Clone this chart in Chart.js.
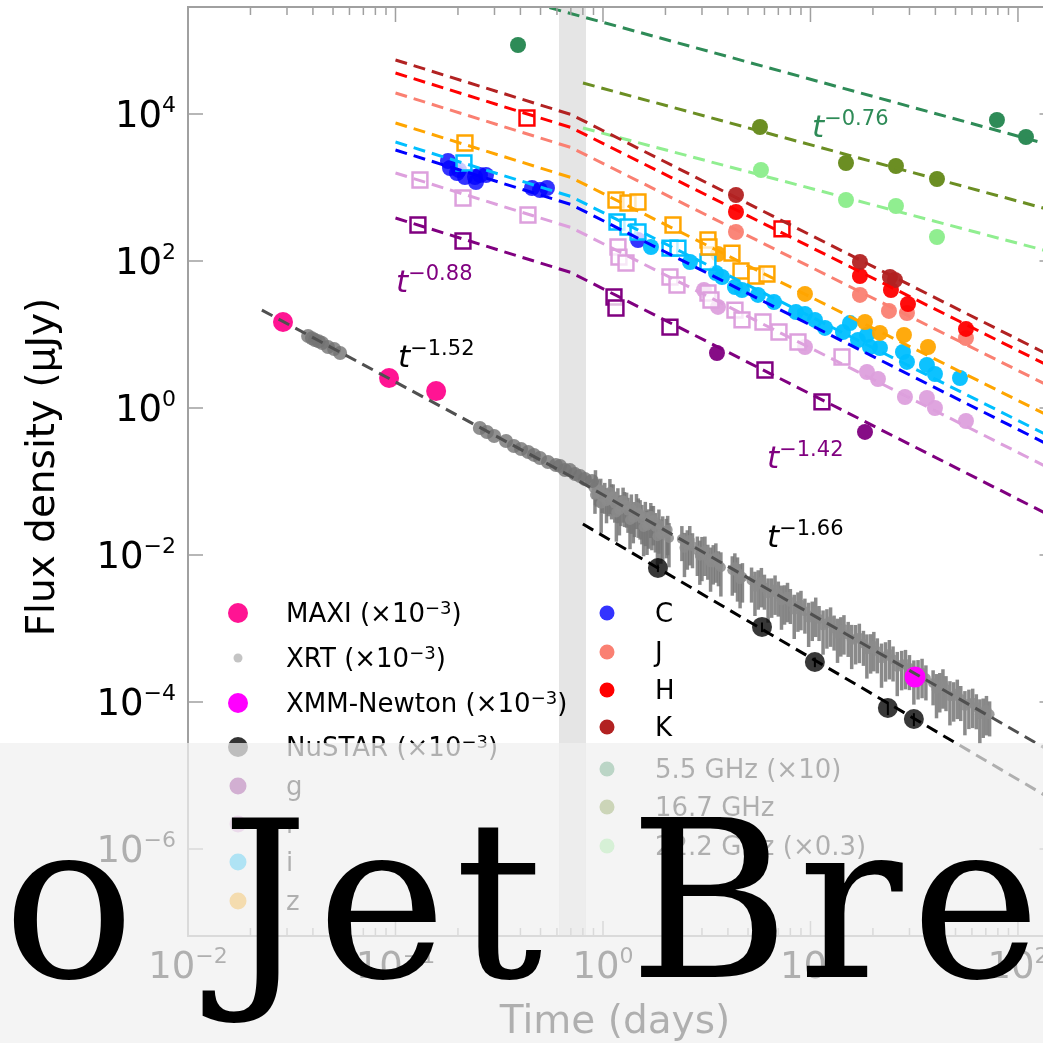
<!DOCTYPE html>
<html><head><meta charset="utf-8">
<script src="https://cdn.jsdelivr.net/npm/chart.js@4.4.0/dist/chart.umd.min.js"></script>
<style>
html,body{margin:0;padding:0;background:#fff;overflow:hidden;width:1043px;height:1043px;}
#wrap{position:absolute;left:0;top:0;width:1060px;height:1043px;}
</style></head>
<body>
<div id="wrap"><canvas id="c" width="1060" height="1043"></canvas></div>
<script>
// ---------------- data (time in days, flux density in µJy as plotted) ----------------
const bandT = [0.614, 0.828];

const xTickExp = [-2, -1, 0, 1, 2];
const yTickExp = [4, 2, 0, -2, -4, -6];

// fitted power laws (start, break, end)
const xrtLineT = [0.0227, 0.709, 150];
const xrtLineF = [21.5, 0.115, 1.99e-5];
const nustarLineT = [0.80, 150];
const nustarLineF = [0.0264, 4.50e-6];
const optLineT = [0.1, 0.701, 150];
const lineK = [54300, 9845, 4.82];
const lineH = [36120, 6551, 3.42];
const lineJ = [19310, 3501, 1.83];
const lineZ = [7545, 1368, 0.715];
const lineI = [4159, 754.5, 0.381];
const lineC = [3237, 587, 0.2874];
const lineR = [1575, 285.6, 0.1398];
const lineG = [384.6, 69.7, 0.0321];
const line55T = [0.3, 150];
const line55F = [448700, 3647];
const radioLineT = [0.801, 150];
const line167F = [26410, 477.4];
const line222F = [6449, 128.5];

// X-ray
const maxiT = [0.0287, 0.0931, 0.157];
const maxiF = [14.8, 2.56, 1.70];
const maxiErr = [0.15, 0.2, 0.25];
const xrtEarlyT = [0.0379,0.0396,0.0409,0.0426,0.0443,0.0473,0.0506,0.0541,0.255,0.276,0.299,0.341,0.372,0.403,0.436,0.465,0.497,0.543,0.593,0.621,0.656,0.693,0.733,0.775,0.818,0.885];
const xrtEarlyF = [9.55,8.90,8.42,8.10,7.66,6.76,6.35,5.60,0.535,0.472,0.416,0.356,0.304,0.277,0.252,0.230,0.209,0.184,0.168,0.163,0.143,0.143,0.126,0.119,0.108,0.1016];
const xrtLateT = [0.90,0.93,0.96,0.99,1.02,1.06,1.10,1.14,1.18,1.22,1.27,1.32,1.37,1.42,1.48,1.54,1.60,1.66,1.72,1.79,1.86,1.94,2.02,2.08,
 2.40,2.55,2.70,2.85,3.00,3.20,3.40,3.60,
 4.20,4.45,4.70,
 5.2,5.6,6.0,6.5,7.0,7.5,8.0,8.7,9.4,10.2,11.0,12.0,13.0,14.0,
 15.2,16.5,18.0,19.5,21.0,23.0,25.0,27.5,30.0,33.0,36.0,
 39,42,45,49,53,58,63,68,73,
 0.915,0.975,1.04,1.12,1.20,1.30,1.40,1.51,1.63,1.75,1.90,2.05,
 2.47,2.62,2.93,3.10,3.30,3.50,3.70,
 4.32,4.58,
 5.4,5.8,6.25,6.75,7.25,7.75,8.35,9.0,9.8,10.6,11.5,12.5,13.5,14.5,
 15.8,17.2,18.7,20.2,22.0,24.0,26.2,28.7,31.5,34.5,
 40.5,43.5,47,51,55.5,60.5,65.5,70.5,
 0.92,0.98,1.08,1.16,1.25,1.35,1.45,1.57,1.70,1.83];
const xrtLateF = [0.082,0.070,0.074,0.062,0.066,0.056,0.061,0.050,0.054,0.045,0.048,0.040,0.043,0.035,0.038,0.031,0.033,0.027,0.029,0.024,0.026,0.021,0.020,0.017,
 0.0165,0.0140,0.0132,0.0115,0.0110,0.0092,0.0088,0.0075,
 0.0062,0.0058,0.0050,
 0.0045,0.0040,0.0036,0.0031,0.0029,0.0025,0.0023,0.0020,0.0017,0.0015,0.00135,0.00118,0.00100,0.00092,
 0.00082,0.00072,0.00062,0.00054,0.00049,0.00042,0.00038,0.00032,0.00029,0.00024,0.00021,
 0.00018,0.00016,0.00015,0.00012,0.00011,0.000095,0.000085,0.000072,0.000068,
 0.066,0.078,0.054,0.063,0.041,0.047,0.032,0.036,0.025,0.030,0.019,0.022,
 0.0125,0.0160,0.0098,0.0115,0.0079,0.0093,0.0068,
 0.0068,0.0047,
 0.0037,0.0043,0.0030,0.0034,0.0024,0.0027,0.0018,0.0021,0.0014,0.0017,0.00110,0.00125,0.00085,0.00098,
 0.00070,0.00075,0.00052,0.00058,0.00039,0.00045,0.00030,0.00033,0.00023,0.00025,
 0.00015,0.00018,0.00012,0.00013,0.000088,0.000098,0.000068,0.000078,
 0.095,0.050,0.072,0.038,0.055,0.030,0.045,0.024,0.034,0.018];
const xrtLateErr = [0.3,0.35,0.4,0.4,0.45,0.4,0.5,0.45,0.5,0.45,0.5,0.5,0.55,0.5,0.55,0.55,0.6,0.55,0.6,0.55,0.6,0.6,0.55,0.6,
 0.5,0.55,0.5,0.55,0.6,0.5,0.55,0.5,
 0.55,0.6,0.55,
 0.5,0.55,0.5,0.55,0.5,0.55,0.5,0.55,0.5,0.55,0.5,0.55,0.5,0.55,
 0.5,0.55,0.5,0.55,0.5,0.55,0.5,0.55,0.5,0.55,0.5,
 0.5,0.55,0.5,0.55,0.5,0.55,0.5,0.55,0.5,
 0.45,0.4,0.5,0.45,0.55,0.5,0.55,0.55,0.6,0.55,0.6,0.55,
 0.6,0.55,0.6,0.55,0.6,0.55,0.6,
 0.55,0.6,
 0.6,0.55,0.6,0.55,0.6,0.55,0.6,0.55,0.6,0.55,0.6,0.55,0.6,0.55,
 0.6,0.55,0.6,0.55,0.6,0.55,0.6,0.55,0.6,0.55,
 0.6,0.55,0.6,0.55,0.6,0.55,0.6,0.55,
 0.5,0.6,0.5,0.6,0.5,0.6,0.5,0.6,0.5,0.6];
const xmmT = [31.9];
const xmmF = [2.19e-4];
const nustarT = [1.84, 5.84, 10.5, 23.6, 31.5];
const nustarF = [6.65e-3, 1.05e-3, 3.50e-4, 8.28e-5, 5.87e-5];
const nustarErr = [0.12, 0.15, 0.15, 0.2, 0.2];

// optical / NIR
const kT = [4.375, 17.32, 24.16, 25.54];
const kF = [791, 96.9, 60.6, 55.1];
const hT = [4.375, 17.32, 24.43, 29.51, 56.16];
const hF = [464, 62.5, 40.3, 26.0, 11.9];
const hSqT = [0.4302, 7.290];
const hSqF = [8820, 273];
const jT = [4.375, 17.32, 23.89, 29.18, 56.16];
const jF = [248, 34.5, 20.9, 19.6, 8.96];
const zSqT = [0.2162, 1.155, 1.320, 1.475, 2.175, 3.206, 3.242, 4.185, 4.625, 5.462, 6.171];
const zSqF = [4031, 676, 615, 635, 309, 193, 155, 128, 73.1, 62.5, 66.5];
const zT = [3.583, 9.408, 18.31, 21.62, 28.22, 36.84];
const zF = [124.5, 35.6, 14.8, 10.5, 9.84, 6.76];
const iSqT = [0.2138, 1.168, 1.320, 1.475, 2.103, 2.298, 3.206];
const iSqF = [2154, 339, 290, 248, 150, 150, 96.9];
const iT = [1.703,2.626,3.504,3.746,4.326,4.677,5.585,6.671,8.514,9.408,10.51,11.75,14.34,15.50,16.94,18.72,19.35,21.62,27.91,29.18,36.42,39.81,52.55];
const iF = [155,96.9,68.7,60.6,44.3,40.3,34.5,27.7,20.2,19.0,15.8,12.3,10.8,14.3,8.42,9.84,6.76,6.55,5.78,4.23,3.85,2.90,2.56];
const cT = [0.1791,0.1831,0.1979,0.2023,0.2162,0.2416,0.2554,0.2730,0.2443,0.4548,0.4970,0.5372,1.475];
const cF = [2293,1842,1575,1730,1390,1390,1480,1480,1188,984,925,984,193];
const rSqT = [0.1312,0.2115,0.4350,1.181,1.194,1.291,2.103,2.273,3.206,3.315,4.326,4.677,5.903,7.051,8.706,14.19];
const rSqF = [1265,720,423,155,113,93.9,60.6,47.2,36.7,29.5,21.5,15.8,14.8,10.8,7.91,4.94];
const rT = [3.067,3.583,9.408,18.72,21.15,28.53,36.42,39.81,56.16];
const rF = [40.3,23.7,6.76,3.09,2.48,1.41,1.37,1.0,0.666];
const gSqT = [0.1283,0.2115,1.130,1.155,2.103,6.035,11.36];
const gSqF = [309,187,32.4,22.9,12.6,3.29,1.21];
const gT = [3.543, 18.31];
const gF = [5.60, 0.472];

// radio
const r55T = [0.3895, 79.20, 109.3];
const r55F = [86900, 8286, 4865];
const r167T = [5.710, 14.83, 25.82, 40.71];
const r167F = [6656, 2154, 1961, 1305];
const r222T = [5.773, 14.83, 25.82, 40.71];
const r222F = [1730, 676, 560, 212];

// texts
const legendCol1 = [
  {parts:[['MAXI (×10',26,0],['−3',18,8],[')',26,0]], color:'#ff1493', r:10},
  {parts:[['XRT (×10',26,0],['−3',18,8],[')',26,0]], color:'#c4c4c4', r:4.5},
  {parts:[['XMM-Newton (×10',26,0],['−3',18,8],[')',26,0]], color:'#ff00ff', r:10},
  {parts:[['NuSTAR (×10',26,0],['−3',18,8],[')',26,0]], color:'rgba(0,0,0,0.8)', r:10},
  {parts:[['g',26,0]], color:'#800080', r:8.5},
  {parts:[['r',26,0]], color:'#dda0dd', r:8.5},
  {parts:[['i',26,0]], color:'#00bfff', r:8.5},
  {parts:[['z',26,0]], color:'#ffa500', r:8.5}
];
const legendCol1Y = [613, 658, 703, 747, 786, 824, 862, 901];
const legendCol2 = [
  {parts:[['C',26,0]], color:'rgba(0,0,255,0.8)', r:7.5},
  {parts:[['J',26,0]], color:'#fa8072', r:7.5},
  {parts:[['H',26,0]], color:'#ff0000', r:7.5},
  {parts:[['K',26,0]], color:'#b22222', r:7.5},
  {parts:[['5.5 GHz (×10)',26,0]], color:'#2e8b57', r:7.5},
  {parts:[['16.7 GHz',26,0]], color:'#6b8e23', r:7.5},
  {parts:[['22.2 GHz (×0.3)',26,0]], color:'#90ee90', r:7.5}
];
const legendCol2Y = [613, 652, 690, 727, 769, 807, 846];
const slopeLabels = [
  {exp:'−1.52', x:398, y:367, color:'#000000'},
  {exp:'−0.88', x:396, y:292, color:'#800080'},
  {exp:'−0.76', x:812, y:137, color:'#2e8b57'},
  {exp:'−1.42', x:767, y:468, color:'#800080'},
  {exp:'−1.66', x:767, y:547, color:'#000000'}
];
const xTitle = 'Time (days)';
const yTitle = 'Flux density (μJy)';
const bannerText = 'o Jet Bre';

// ---------------- helpers ----------------
const pts = (T, F) => T.map((t, i) => ({x: t, y: F[i]}));
const FONT = "'DejaVu Sans'";

function lineDs(T, F, color) {
  return {data: pts(T, F), showLine: true, borderColor: color, borderWidth: 3, borderDash: [12, 7],
          pointRadius: 0, fill: false, order: 0, tension: 0};
}
function dotDs(T, F, color, r, extra) {
  return Object.assign({data: pts(T, F), backgroundColor: color, borderColor: color, borderWidth: 0,
          pointRadius: r, pointHoverRadius: r, order: 2}, extra || {});
}
function sqDs(T, F, color) {
  return {data: pts(T, F), pointStyle: 'rect', backgroundColor: 'rgba(255,255,255,0.75)', borderColor: color,
          borderWidth: 2.5, pointRadius: 10.5, pointHoverRadius: 10.5, order: 1};
}
function rich(ctx, x, baseline, parts, align, color, italicFirst) {
  const ws = [];
  let w = 0;
  parts.forEach((p, i) => {
    ctx.font = ((italicFirst && i === 0) ? 'italic ' : '') + p[1] + 'px ' + FONT;
    const m = ctx.measureText(p[0]).width; ws.push(m); w += m;
  });
  let cx = align === 'center' ? x - w / 2 : align === 'right' ? x - w : x;
  ctx.fillStyle = color; ctx.textAlign = 'left'; ctx.textBaseline = 'alphabetic';
  parts.forEach((p, i) => {
    ctx.font = ((italicFirst && i === 0) ? 'italic ' : '') + p[1] + 'px ' + FONT;
    ctx.fillText(p[0], cx, baseline - (p[2] || 0));
    cx += ws[i];
  });
}
function sup(n) { return n < 0 ? '−' + (-n) : String(n); }

const decor = {
  id: 'decor',
  beforeDatasetsDraw(chart) {
    const {ctx, chartArea: a, scales: {x, y}} = chart;
    ctx.save();
    const x1 = x.getPixelForValue(bandT[0]), x2 = x.getPixelForValue(bandT[1]);
    ctx.fillStyle = '#e5e5e5';
    ctx.fillRect(x1, a.top, x2 - x1, a.bottom - a.top);
    chart.data.datasets.forEach(ds => {
      if (!ds.errRel) return;
      ctx.strokeStyle = ds.errColor; ctx.lineWidth = ds.errWidth || 1.5;
      ds.data.forEach((p, i) => {
        const r = ds.errRel[i];
        const px = x.getPixelForValue(p.x);
        ctx.beginPath();
        ctx.moveTo(px, y.getPixelForValue(p.y * (1 + r)));
        ctx.lineTo(px, y.getPixelForValue(p.y * (1 - r)));
        ctx.stroke();
      });
    });
    ctx.restore();
  },
  afterDraw(chart) {
    const {ctx, chartArea: a, scales: {x, y}} = chart;
    ctx.save();
    // frame
    ctx.strokeStyle = '#a0a0a0'; ctx.lineWidth = 2;
    ctx.strokeRect(a.left, a.top, a.right - a.left, a.bottom - a.top);
    // ticks
    ctx.lineWidth = 1.5;
    ctx.beginPath();
    for (let e = -2; e <= 2; e++) {
      const px = x.getPixelForValue(Math.pow(10, e));
      ctx.moveTo(px, a.top); ctx.lineTo(px, a.top + 15);
      ctx.moveTo(px, a.bottom); ctx.lineTo(px, a.bottom - 15);
      for (let m = 2; m <= 9; m++) {
        const v = m * Math.pow(10, e);
        if (v > x.max) break;
        const q = x.getPixelForValue(v);
        ctx.moveTo(q, a.top); ctx.lineTo(q, a.top + 8);
        ctx.moveTo(q, a.bottom); ctx.lineTo(q, a.bottom - 8);
      }
    }
    yTickExp.forEach(e => {
      const py = y.getPixelForValue(Math.pow(10, e));
      ctx.moveTo(a.left, py); ctx.lineTo(a.left + 15, py);
      ctx.moveTo(a.right, py); ctx.lineTo(a.right - 15, py);
    });
    ctx.stroke();
    // tick labels
    xTickExp.forEach(e => {
      const px = x.getPixelForValue(Math.pow(10, e));
      rich(ctx, px, 978, [['10', 37, 0], [sup(e), 22, 15]], 'center', '#000');
    });
    yTickExp.forEach(e => {
      const py = y.getPixelForValue(Math.pow(10, e));
      rich(ctx, 176, py + 13, [['10', 37, 0], [sup(e), 22, 15]], 'right', '#000');
    });
    // axis titles
    ctx.fillStyle = '#000'; ctx.font = '39px ' + FONT; ctx.textAlign = 'center'; ctx.textBaseline = 'alphabetic';
    ctx.fillText(xTitle, 615, 1033);
    ctx.save(); ctx.translate(54, 467); ctx.rotate(-Math.PI / 2);
    ctx.fillText(yTitle, 0, 0); ctx.restore();
    // slope labels
    slopeLabels.forEach(s => rich(ctx, s.x, s.y, [['t', 31, 0], [s.exp, 21, 12]], 'left', s.color, true));
    // legend
    legendCol1.forEach((it, i) => {
      ctx.fillStyle = it.color; ctx.beginPath(); ctx.arc(238, legendCol1Y[i], it.r, 0, 2 * Math.PI); ctx.fill();
      rich(ctx, 286, legendCol1Y[i] + 9, it.parts, 'left', '#000');
    });
    legendCol2.forEach((it, i) => {
      ctx.fillStyle = it.color; ctx.beginPath(); ctx.arc(607, legendCol2Y[i], it.r, 0, 2 * Math.PI); ctx.fill();
      rich(ctx, 655, legendCol2Y[i] + 9, it.parts, 'left', '#000');
    });
    // veil and banner
    ctx.fillStyle = 'rgba(240,240,240,0.73)';
    ctx.fillRect(0, 743, chart.width, chart.height - 743);
    ctx.fillStyle = '#000'; ctx.font = "219px 'DejaVu Serif'"; ctx.textAlign = 'left'; ctx.textBaseline = 'alphabetic';
    if ('letterSpacing' in ctx) ctx.letterSpacing = '0px';
    const mo = ctx.measureText('o');
    const x0 = 13 + mo.actualBoundingBoxLeft;
    const mf = ctx.measureText(bannerText);
    const right0 = x0 + mf.actualBoundingBoxRight;
    const L = (1030 - right0) / (bannerText.length - 1);
    if ('letterSpacing' in ctx) ctx.letterSpacing = L.toFixed(2) + 'px';
    ctx.fillText(bannerText, x0, 977);
    ctx.restore();
  }
};

function build() {
  const datasets = [
    lineDs(xrtLineT, xrtLineF, '#505050'),
    lineDs(nustarLineT, nustarLineF, '#000000'),
    lineDs(optLineT, lineK, '#b22222'),
    lineDs(optLineT, lineH, '#ff0000'),
    lineDs(optLineT, lineJ, '#fa8072'),
    lineDs(optLineT, lineZ, '#ffa500'),
    lineDs(optLineT, lineI, '#00bfff'),
    lineDs(optLineT, lineC, '#0000ff'),
    lineDs(optLineT, lineR, '#dda0dd'),
    lineDs(optLineT, lineG, '#800080'),
    lineDs(line55T, line55F, '#2e8b57'),
    lineDs(radioLineT, line167F, '#6b8e23'),
    lineDs(radioLineT, line222F, '#90ee90'),
    sqDs(hSqT, hSqF, '#ff0000'),
    sqDs(zSqT, zSqF, '#ffa500'),
    sqDs(iSqT, iSqF, '#00bfff'),
    sqDs(rSqT, rSqF, '#dda0dd'),
    sqDs(gSqT, gSqF, '#800080'),
    dotDs(maxiT, maxiF, '#ff1493', 10, {errRel: maxiErr, errColor: '#000', errWidth: 2, order: 1}),
    dotDs(xmmT, xmmF, '#ff00ff', 10.5, {order: 1}),
    dotDs(nustarT, nustarF, 'rgba(0,0,0,0.78)', 10, {errRel: nustarErr, errColor: '#000', errWidth: 2, order: 1}),
    dotDs(kT, kF, 'rgba(178,34,34,0.95)', 8),
    dotDs(hT, hF, 'rgba(255,0,0,0.95)', 8),
    dotDs(jT, jF, 'rgba(250,128,114,0.95)', 8),
    dotDs(zT, zF, 'rgba(255,165,0,0.95)', 8),
    dotDs(iT, iF, 'rgba(0,191,255,0.95)', 8),
    dotDs(cT, cF, 'rgba(0,0,255,0.8)', 8),
    dotDs(rT, rF, 'rgba(221,160,221,0.95)', 8),
    dotDs(gT, gF, 'rgba(128,0,128,0.95)', 8),
    dotDs(r55T, r55F, '#2e8b57', 8),
    dotDs(r167T, r167F, '#6b8e23', 8),
    dotDs(r222T, r222F, '#90ee90', 8),
    dotDs(xrtEarlyT, xrtEarlyF, 'rgba(115,115,115,0.8)', 7, {order: 3}),
    dotDs(xrtLateT, xrtLateF, 'rgba(140,140,140,0.85)', 5, {errRel: xrtLateErr, errColor: 'rgba(118,118,118,0.85)', errWidth: 3.5, order: 3})
  ];
  new Chart(document.getElementById('c'), {
    type: 'scatter',
    data: {datasets},
    options: {
      responsive: false, animation: false, devicePixelRatio: 1,
      layout: {autoPadding: false, padding: {left: 0, top: 7, right: 5.5, bottom: 0}},
      plugins: {legend: {display: false}, tooltip: {enabled: false}},
      scales: {
        x: {type: 'logarithmic', min: 0.01, max: 150, bounds: 'data',
            grid: {display: false}, border: {display: false}, ticks: {display: false},
            afterFit: s => { s.height = 107; }},
        y: {type: 'logarithmic', min: 6.55e-8, max: 2.856e5, bounds: 'data',
            grid: {display: false}, border: {display: false}, ticks: {display: false},
            afterFit: s => { s.width = 188; }}
      }
    },
    plugins: [decor]
  });
}
const fontsReady = document.fonts ? Promise.all([
  document.fonts.load("37px 'DejaVu Sans'"),
  document.fonts.load("italic 31px 'DejaVu Sans'"),
  document.fonts.load("219px 'DejaVu Serif'")
]).catch(() => {}) : Promise.resolve();
fontsReady.then(build);
</script>
</body></html>
